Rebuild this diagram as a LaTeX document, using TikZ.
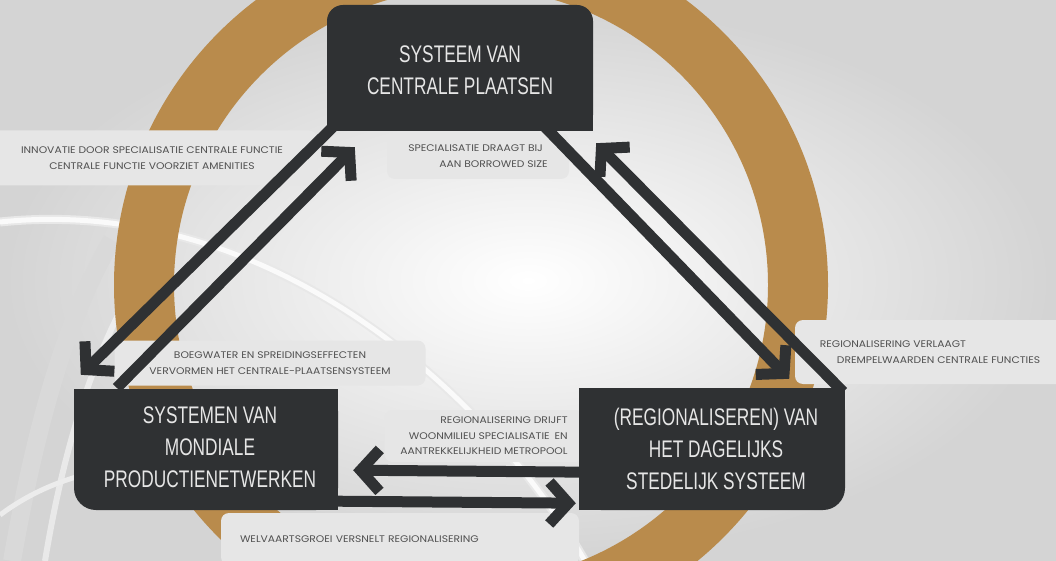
\documentclass[tikz,border=0pt]{standalone}
\usepackage{fontspec}
\usetikzlibrary{arrows.meta}
\newfontfamily\titlefont[FakeStretch=0.72]{Liberation Sans}
\newfontfamily\notefont[FakeStretch=1.12]{Poppins}
\definecolor{boxdark}{HTML}{2F3133}
\definecolor{ringgold}{HTML}{B98B4C}
\definecolor{notegrey}{HTML}{E6E6E6}
\definecolor{notetext}{HTML}{505050}
\definecolor{titletext}{HTML}{E6E6E6}

\begin{document}
\begin{tikzpicture}[x=1pt,y=-1pt,
  flow/.style={line width=11pt,color=boxdark,-{Straight Barb[length=19pt,width=42pt]}},
  boxtitle/.style={minimum width=266pt,minimum height=122pt,inner sep=0pt,align=center,
    text=titletext,font=\titlefont\fontsize{24}{32}\selectfont},
  note/.style={fill=notegrey,rounded corners=8pt,inner sep=0pt,text=notetext,
    font=\notefont\fontsize{9.6}{15.5}\selectfont}]
\useasboundingbox (0,0) rectangle (1056,561);
\clip (0,0) rectangle (1056,561);
\shade[inner color=white,outer color=gray!34] (0,0) rectangle (1056,561);
% faint arcs in the back
\draw[gray!18,line width=9pt] (0,222) .. controls (260,195) and (480,380) .. (585,561);
\draw[white!96!gray,line width=5pt] (0,222) .. controls (260,195) and (480,380) .. (585,561);
\draw[gray!30,line width=18pt] (12,561) .. controls (35,430) and (65,320) .. (112,240);
\draw[white,opacity=0.5,line width=6pt] (45,561) .. controls (65,440) and (95,350) .. (140,275);
\draw[gray!15,line width=5pt] (0,515) .. controls (60,470) and (140,455) .. (235,472);
% golden ring
\draw[ringgold,line width=60pt] (471,285) circle (327);

% notes
\node[note,minimum width=330pt,minimum height=55pt,align=center] (ninnovatie) at (152,158)
  {INNOVATIE DOOR SPECIALISATIE CENTRALE FUNCTIE\\CENTRALE FUNCTIE VOORZIET AMENITIES};
\node[note,minimum width=182pt,minimum height=46pt,align=left] (nborrowed) at (478,156)
  {SPECIALISATIE DRAAGT BIJ\\\hspace*{31pt}AAN BORROWED SIZE};
\node[note,minimum width=270pt,minimum height=64pt,align=left] (ndrempel) at (930,352)
  {REGIONALISERING VERLAAGT\\\hspace*{17pt}DREMPELWAARDEN CENTRALE FUNCTIES};
\node[note,minimum width=311pt,minimum height=45pt,align=center] (nboegwater) at (270,363)
  {BOEGWATER EN SPREIDINGSEFFECTEN\\VERVORMEN HET CENTRALE-PLAATSENSYSTEEM};
\node[note,minimum width=199pt,minimum height=52pt,align=right] (nwoonmilieu) at (484,436)
  {REGIONALISERING DRIJFT\\WOONMILIEU SPECIALISATIE\enspace EN\\AANTREKKELIJKHEID METROPOOL};
\node[note,minimum width=358pt,minimum height=52pt,text width=320pt,align=left] (nwelvaart) at (400,539)
  {WELVAARTSGROEI VERSNELT REGIONALISERING};

% boxes
\fill[boxdark,rounded corners=16pt] (327,5) rectangle (593,131);
\fill[boxdark] (327,60) rectangle (593,131);
\node[boxtitle] (cp) at (460,70) {SYSTEEM VAN\\CENTRALE PLAATSEN};

\fill[boxdark,rounded corners=22pt] (74,389) rectangle (338,510);
\fill[boxdark] (74,389) rectangle (338,450);
\fill[boxdark] (200,389) rectangle (338,510);
\node[boxtitle] (lp) at (210,447) {SYSTEMEN VAN\\MONDIALE\\PRODUCTIENETWERKEN};

\fill[boxdark,rounded corners=22pt] (579,388) rectangle (845,510);
\fill[boxdark] (579,388) rectangle (845,450);
\fill[boxdark] (579,388) rectangle (700,510);
\node[boxtitle] (rp) at (716,449) {(REGIONALISEREN) VAN\\HET DAGELIJKS\\STEDELIJK SYSTEEM};

% arrows
\draw[flow] ([shift={(8,-6)}]cp.south west) -- ([shift={(4,-11)}]lp.north west);
\draw[flow] ([shift={(40,2)}]lp.north west) -- ([shift={(28,16)}]cp.south west);
\draw[flow] ([shift={(-48,-4)}]cp.south east) -- ([shift={(-60,-9)}]rp.north east);
\draw[flow] ([shift={(-6,4)}]rp.north east) -- ([shift={(3,12)}]cp.south east);
\draw[flow] ([shift={(6,-38)}]rp.south west) -- ([shift={(10,-38)}]lp.south east);
\draw[flow] ([shift={(-6,-7)}]lp.south east) -- ([shift={(-7,-7)}]rp.south west);
\end{tikzpicture}
\end{document}
